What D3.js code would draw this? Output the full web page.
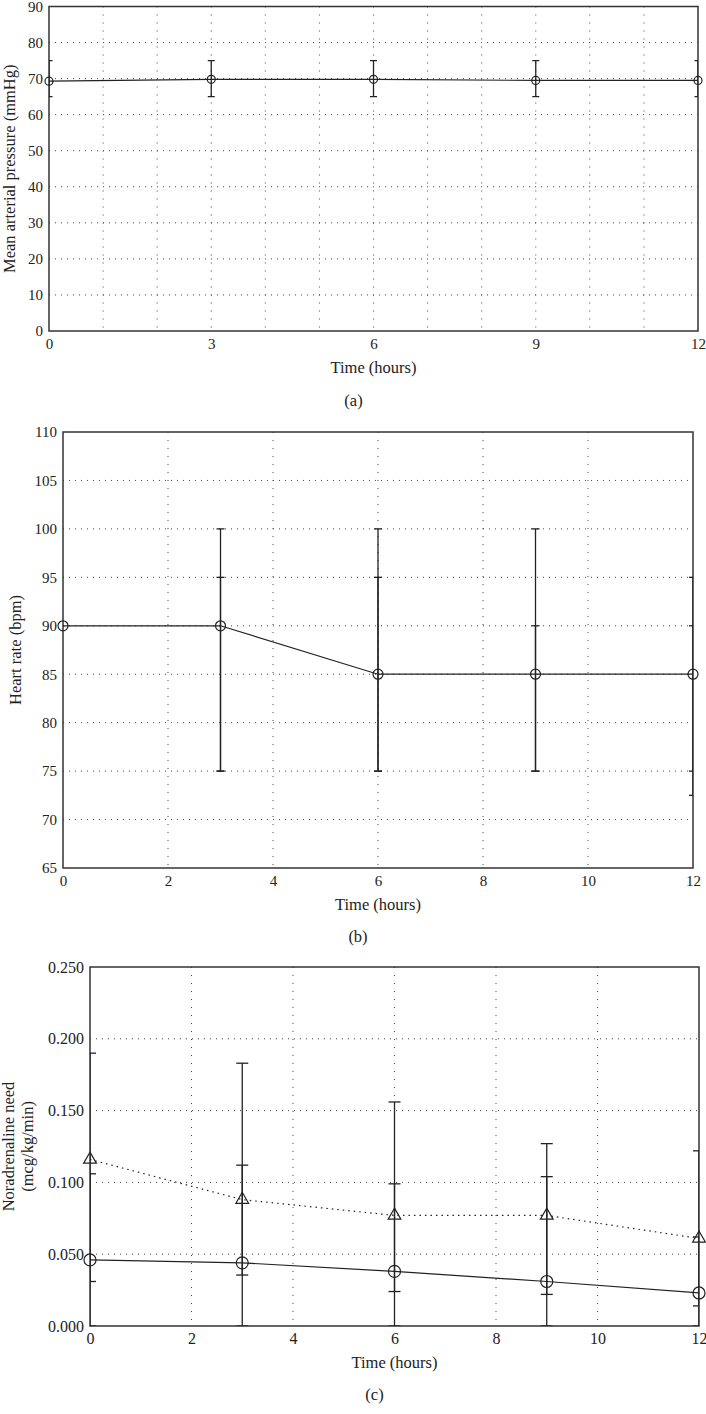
<!DOCTYPE html>
<html lang="en">
<head>
    <meta charset="UTF-8">
    <title>Haemodynamics over 12 hours</title>
    <script src="https://d3js.org/d3.v7.min.js"></script>
    <style>
        body {
            margin: 0;
            padding: 0;
            background-color: white;
        }

        svg text {
            font-family: 'Liberation Serif', 'Times New Roman', 'DejaVu Serif', serif;
            fill: #222;
        }

        .frame {
            fill: none;
            stroke: #333;
            stroke-width: 1.5px;
        }

        .grid line {
            stroke: #444;
            stroke-width: 1px;
        }

        .series {
            fill: none;
            stroke: #222;
            stroke-width: 1.2px;
        }

        .err {
            stroke: #222;
            stroke-width: 1.3px;
        }

        .marker {
            fill: none;
            stroke: #222;
            stroke-width: 1.2px;
        }
    </style>
</head>
<body>

<svg width="706" height="1414"></svg>

<script>
// time points (hours)
var hours = [0, 3, 6, 9, 12];

// (a) mean arterial pressure, mmHg
var mapValues = [69.3, 69.8, 69.8, 69.5, 69.5];
var mapLow = [65, 65, 65, 65, 65];
var mapHigh = [75, 75, 75, 75, 75];
var mapTicksX = [0, 3, 6, 9, 12];
var mapTicksY = [0, 10, 20, 30, 40, 50, 60, 70, 80, 90];

// (b) heart rate, bpm (two overlapping groups share the same medians)
var hrValues = [90, 90, 85, 85, 85];
var hrLowA = [null, 75, 75, 75, 72.5];
var hrHighA = [null, 95, 95, 90, 90];
var hrLowB = [null, 75, 75, 75, 75];
var hrHighB = [null, 100, 100, 100, 95];
var hrTicksX = [0, 2, 4, 6, 8, 10, 12];
var hrTicksY = [65, 70, 75, 80, 85, 90, 95, 100, 105, 110];

// (c) noradrenaline need, mcg/kg/min
var norCircle = [0.046, 0.044, 0.038, 0.031, 0.023];
var norCircleLow = [0.031, 0.0355, 0.024, 0.022, 0.014];
var norCircleHigh = [0.106, 0.112, 0.099, 0.104, 0.062];
var norTriangle = [0.116, 0.088, 0.077, 0.077, 0.061];
var norTriangleLow = [0, 0, 0, 0, 0];
var norTriangleHigh = [0.19, 0.183, 0.156, 0.127, 0.122];
var norTicksX = [0, 2, 4, 6, 8, 10, 12];
var norTicksY = [0, 0.05, 0.1, 0.15, 0.2, 0.25];

var svg = d3.select("svg");

function zip(vals, low, high) {
    return hours.map(function(h, i) {
        return {t: h, v: vals[i], lo: low ? low[i] : null, hi: high ? high[i] : null};
    });
}

// draws one framed panel and returns helpers for its content
function panel(opt) {
    var x = d3.scaleLinear().domain([0, 12]).range([opt.left, opt.right]);
    var y = d3.scaleLinear().domain(opt.yDomain).range([opt.bottom, opt.top]);
    var g = svg.append("g");

    var clipId = "clip-" + opt.name;
    g.append("clipPath").attr("id", clipId)
      .append("rect")
        .attr("x", opt.left).attr("y", opt.top)
        .attr("width", opt.right - opt.left).attr("height", opt.bottom - opt.top);

    // dotted grid
    var grid = g.append("g").attr("class", "grid");
    grid.selectAll(".h").data(opt.gridY).enter().append("line")
        .attr("x1", opt.left).attr("x2", opt.right)
        .attr("y1", function(d) { return y(d); })
        .attr("y2", function(d) { return y(d); })
        .attr("stroke-dasharray", "1,5");
    grid.selectAll(".v").data(opt.gridX).enter().append("line")
        .attr("y1", opt.top).attr("y2", opt.bottom)
        .attr("x1", function(d) { return x(d); })
        .attr("x2", function(d) { return x(d); })
        .attr("stroke-dasharray", "1,7");

    // axes (labels only, frame drawn separately)
    var ax = g.append("g")
        .attr("transform", "translate(0," + opt.bottom + ")")
        .call(d3.axisBottom(x).tickValues(opt.ticksX).tickSize(0).tickPadding(7)
            .tickFormat(d3.format("d")));
    var ay = g.append("g")
        .attr("transform", "translate(" + opt.left + ",0)")
        .call(d3.axisLeft(y).tickValues(opt.ticksY).tickSize(0).tickPadding(6)
            .tickFormat(opt.yFormat));
    [ax, ay].forEach(function(a) {
        a.attr("font-family", null);
        a.select(".domain").remove();
        a.selectAll("text").attr("font-size", opt.fontSize).attr("fill", "#222");
    });

    g.append("rect").attr("class", "frame")
        .attr("x", opt.left).attr("y", opt.top)
        .attr("width", opt.right - opt.left).attr("height", opt.bottom - opt.top);

    // titles
    g.append("text")
        .attr("x", (opt.left + opt.right) / 2)
        .attr("y", opt.bottom + opt.xTitleDy)
        .attr("text-anchor", "middle")
        .attr("font-size", 16.5)
        .text("Time (hours)");
    g.append("text")
        .attr("x", (opt.left + opt.right) / 2 - 20)
        .attr("y", opt.bottom + opt.capDy)
        .attr("text-anchor", "middle")
        .attr("font-size", 16.5)
        .text(opt.caption);

    var yt = g.append("text")
        .attr("transform", "translate(" + opt.yTitleX + "," + ((opt.top + opt.bottom) / 2) + ") rotate(-90)")
        .attr("text-anchor", "middle")
        .attr("font-size", 16.5);
    opt.yTitle.forEach(function(line, i) {
        yt.append("tspan").attr("x", 0).attr("dy", i === 0 ? 0 : 19).text(line);
    });

    return {g: g, x: x, y: y, clip: "url(#" + clipId + ")"};
}

function errorBars(p, data, capHalf) {
    var e = p.g.append("g").attr("clip-path", p.clip);
    var rows = data.filter(function(d) { return d.lo !== null && d.hi !== null; });
    e.selectAll(".stem").data(rows).enter().append("line")
        .attr("class", "err")
        .attr("x1", function(d) { return p.x(d.t); })
        .attr("x2", function(d) { return p.x(d.t); })
        .attr("y1", function(d) { return p.y(d.lo); })
        .attr("y2", function(d) { return p.y(d.hi); });
    ["lo", "hi"].forEach(function(k) {
        e.selectAll(".cap-" + k).data(rows).enter().append("line")
            .attr("class", "err")
            .attr("x1", function(d) { return p.x(d.t) - capHalf; })
            .attr("x2", function(d) { return p.x(d.t) + capHalf; })
            .attr("y1", function(d) { return p.y(d[k]); })
            .attr("y2", function(d) { return p.y(d[k]); });
    });
}

function seriesLine(p, data, dash) {
    var line = d3.line().x(function(d) { return p.x(d.t); }).y(function(d) { return p.y(d.v); });
    p.g.append("path").datum(data)
        .attr("class", "series")
        .attr("stroke-dasharray", dash || null)
        .attr("d", line);
}

function circles(p, data, r) {
    p.g.selectAll(null).data(data).enter().append("circle")
        .attr("class", "marker")
        .attr("cx", function(d) { return p.x(d.t); })
        .attr("cy", function(d) { return p.y(d.v); })
        .attr("r", r);
}

function triangles(p, data, size) {
    var sym = d3.symbol().type(d3.symbolTriangle).size(size);
    p.g.selectAll(null).data(data).enter().append("path")
        .attr("class", "marker")
        .attr("transform", function(d) { return "translate(" + p.x(d.t) + "," + p.y(d.v) + ")"; })
        .attr("d", sym);
}

// ---- (a) Mean arterial pressure ----
var pa = panel({
    name: "a", left: 49, right: 698, top: 6.5, bottom: 331,
    yDomain: [0, 90], ticksX: mapTicksX, ticksY: mapTicksY,
    gridX: d3.range(1, 12), gridY: d3.range(10, 90, 10),
    yFormat: d3.format("d"), fontSize: 15,
    xTitleDy: 42, capDy: 75, caption: "(a)",
    yTitleX: 15, yTitle: ["Mean arterial pressure (mmHg)"]
});
var mapData = zip(mapValues, mapLow, mapHigh);
errorBars(pa, mapData, 3.5);
seriesLine(pa, mapData);
circles(pa, mapData, 4);

// ---- (b) Heart rate ----
var pb = panel({
    name: "b", left: 63, right: 693, top: 432, bottom: 868,
    yDomain: [65, 110], ticksX: hrTicksX, ticksY: hrTicksY,
    gridX: [2, 4, 6, 8, 10], gridY: d3.range(70, 110, 5),
    yFormat: d3.format("d"), fontSize: 15,
    xTitleDy: 42, capDy: 74, caption: "(b)",
    yTitleX: 21, yTitle: ["Heart rate (bpm)"]
});
errorBars(pb, zip(hrValues, hrLowB, hrHighB), 4);
errorBars(pb, zip(hrValues, hrLowA, hrHighA), 4);
seriesLine(pb, zip(hrValues));
circles(pb, zip(hrValues), 5);

// ---- (c) Noradrenaline need ----
var pc = panel({
    name: "c", left: 90, right: 699, top: 967, bottom: 1326,
    yDomain: [0, 0.25], ticksX: norTicksX, ticksY: norTicksY,
    gridX: [2, 4, 6, 8, 10], gridY: [0.05, 0.1, 0.15, 0.2],
    yFormat: d3.format(".3f"), fontSize: 16,
    xTitleDy: 42, capDy: 74, caption: "(c)",
    yTitleX: 14, yTitle: ["Noradrenaline need", "(mcg/kg/min)"]
});
errorBars(pc, zip(norTriangle, norTriangleLow, norTriangleHigh), 6);
errorBars(pc, zip(norCircle, norCircleLow, norCircleHigh), 6);
seriesLine(pc, zip(norTriangle), "1.5,4");
seriesLine(pc, zip(norCircle));
triangles(pc, zip(norTriangle), 70);
circles(pc, zip(norCircle), 6);
</script>

</body>
</html>
